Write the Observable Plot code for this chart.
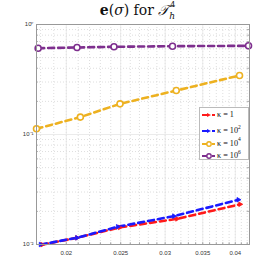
<!DOCTYPE html>
<html>
<head>
<meta charset="utf-8">
<script src="https://cdn.jsdelivr.net/npm/d3@7"></script>
<script src="https://cdn.jsdelivr.net/npm/@observablehq/plot@0.6"></script>
<style>
  html, body { margin: 0; padding: 0; background: #fff; }
  #wrap { position: relative; width: 275px; height: 275px; overflow: hidden; }
  #title { position: absolute; left: 0; top: 2px; width: 275px; text-align: center;
           font-family: "DejaVu Serif", "Liberation Serif", serif; font-size: 14px; color: #111; }
  #chart { position: absolute; left: 0; top: 22px; }
  #legend { position: absolute; left: 199px; top: 107px; width: 48px; height: 51px;
            border: 1px solid #bbb; background: #fff; font-family: "Liberation Serif", "DejaVu Serif", serif;
            font-size: 8.2px; color: #111; }
  .row { position: absolute; left: 1px; height: 12px; line-height: 12px; white-space: nowrap; }
  .row svg { vertical-align: middle; }
</style>
</head>
<body>
<div id="wrap">
  <div id="title"><b style="font-weight:600">e</b>(<i>σ</i>) for <i>𝒯</i><sub style="font-size:9px"><i>h</i></sub><sup style="font-size:8px;margin-left:-5px;position:relative;top:-2px">4</sup></div>
  <div id="chart"></div>
  <div id="legend"></div>
</div>
<script>
const seriesNames = ["κ = 1", "κ = 10²", "κ = 10⁴", "κ = 10⁶"];
const legendLabels = [["1", null], ["10", "2"], ["10", "4"], ["10", "6"]];
const colors = ["#ff1a1a", "#1a1aff", "#EDB120", "#7E2F8E"];
const symbols = ["triangle", "triangle", "circle", "circle"];

const hRed    = [0.01812, 0.0209, 0.0249, 0.0315, 0.0408];
const eRed    = [0.00997, 0.0115, 0.0143, 0.0171, 0.0232];
const hBlue   = [0.01800, 0.0209, 0.0247, 0.0311, 0.0405];
const eBlue   = [0.0100, 0.0115, 0.0145, 0.0181, 0.0255];
const hOrange = [0.0177, 0.02119, 0.02493, 0.0314, 0.0407];
const eOrange = [0.1127, 0.144, 0.190, 0.251, 0.344];
const hPurple = [0.01782, 0.0209, 0.02432, 0.03092, 0.04223];
const ePurple = [0.609, 0.618, 0.627, 0.635, 0.640];

const xTicks = [0.02, 0.025, 0.03, 0.035, 0.04];
const xMinor = d3.range(18, 43).map(d => d / 1000);
const yTicks = [0.01, 0.1, 1];
const yTickLabels = ["10⁻²", "10⁻¹", "10⁰"];
const yMinor = [2,3,4,5,6,7,8,9].flatMap(m => [m * 0.01, m * 0.1]);

const hs = [hRed, hBlue, hOrange, hPurple];
const es = [eRed, eBlue, eOrange, ePurple];
const data = hs.flatMap((h, s) => h.map((x, i) => ({x, y: es[s][i], s})));

const X0 = 0.0177, X1 = 0.0424;

const plot = Plot.plot({
  width: 275,
  height: 253,
  marginLeft: 36,
  marginRight: 26,
  marginTop: 2,
  marginBottom: 31,
  x: {type: "log", domain: [X0, X1], ticks: xTicks, tickFormat: d => String(+d.toFixed(3)), label: null, tickSize: 0, tickPadding: 6},
  y: {type: "log", domain: [0.01, 1], ticks: yTicks, tickFormat: d => yTickLabels[yTicks.indexOf(d)], label: null, tickSize: 0, tickPadding: 3},
  style: {fontFamily: "Liberation Sans, sans-serif", fontSize: "6px", color: "#333", background: "#fff"},
  marks: [
    Plot.ruleX(xMinor, {stroke: "#d0d0d0", strokeDasharray: "1,2", strokeWidth: 0.7}),
    Plot.ruleY(yMinor, {stroke: "#d0d0d0", strokeDasharray: "1,2", strokeWidth: 0.7}),
    Plot.ruleX(xTicks, {stroke: "#e6e6e6", strokeWidth: 0.8}),
    Plot.ruleY(yTicks, {stroke: "#e6e6e6", strokeWidth: 0.8}),
    Plot.ruleX(xMinor, {y1: 0.01, y2: 0.0104, stroke: "#777", strokeWidth: 0.6}),
    Plot.ruleY(yMinor, {x1: X1 * 0.992, x2: X1, stroke: "#777", strokeWidth: 0.6}),
    Plot.ruleY(yMinor, {x1: X0, x2: X0 * 1.008, stroke: "#777", strokeWidth: 0.6}),
    Plot.line(data, {x: "x", y: "y", z: "s", stroke: d => colors[d.s], strokeWidth: 2.6, strokeDasharray: "6,4"}),
    Plot.dot(data.filter(d => symbols[d.s] === "circle"), {x: "x", y: "y", r: 3, stroke: d => colors[d.s], strokeWidth: 1.6, fill: "#fff"}),
    Plot.dot(data.filter(d => symbols[d.s] === "triangle"), {x: "x", y: "y", symbol: "triangle", rotate: 90, r: 1.7, fill: d => colors[d.s], stroke: d => colors[d.s], strokeWidth: 0.8}),
    Plot.frame({stroke: "#999", strokeWidth: 1})
  ]
});
document.getElementById("chart").appendChild(plot);

const lg = document.getElementById("legend");
legendLabels.forEach((lab, i) => {
  const row = document.createElement("div");
  row.className = "row";
  row.style.top = (1 + i * 12.5) + "px";
  const mk = symbols[i] === "circle"
    ? `<circle cx="8" cy="5" r="2.2" fill="#fff" stroke="${colors[i]}" stroke-width="1.4"/>`
    : `<path d="M6,3 L10,5 L6,7 Z" fill="${colors[i]}"/>`;
  row.innerHTML = `<svg width="15" height="10"><line x1="1" y1="5" x2="8" y2="5" stroke="${colors[i]}" stroke-width="2"/><line x1="11" y1="5" x2="14" y2="5" stroke="${colors[i]}" stroke-width="2"/>${mk}</svg><span style="margin-left:1px">κ = ${lab[0]}</span>${lab[1] ? `<sup style="font-size:5.5px;position:relative;top:-1px">${lab[1]}</sup>` : ""}`;
  row.title = seriesNames[i];
  lg.appendChild(row);
});
</script>
</body>
</html>
